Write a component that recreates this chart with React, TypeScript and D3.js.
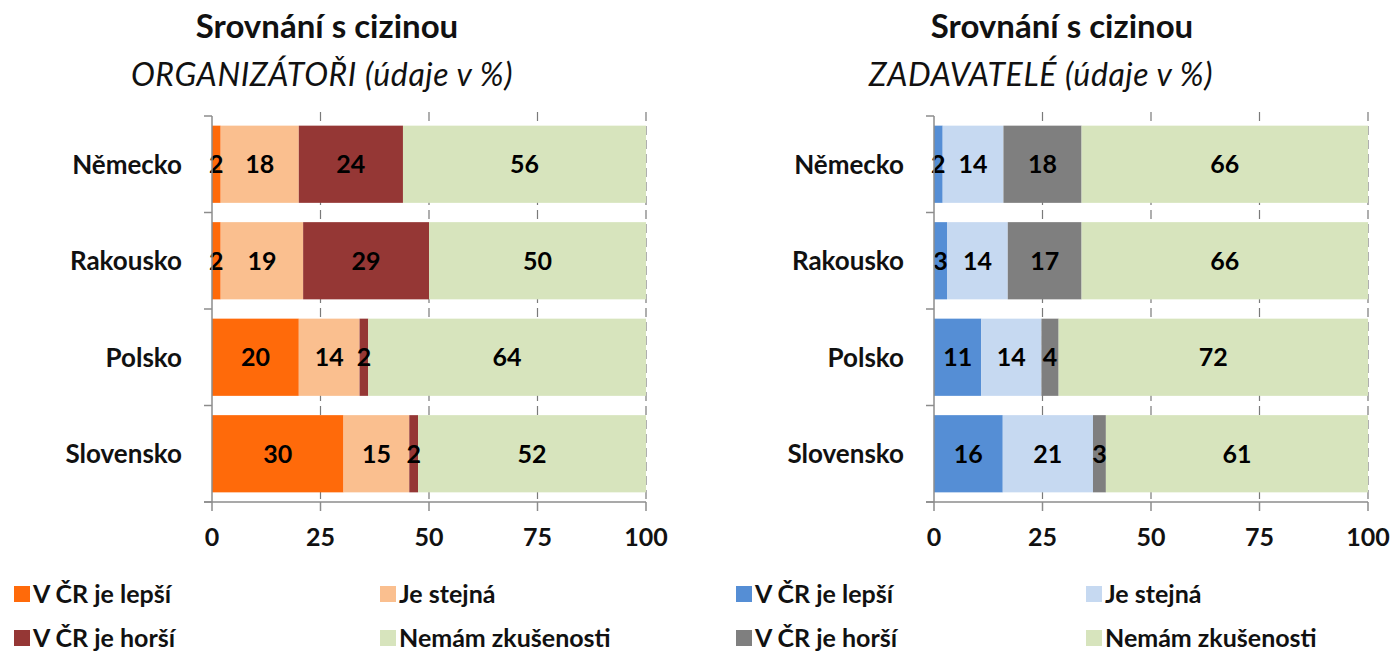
import React from "react";
import * as d3 from "d3";

const categories = ["Německo", "Rakousko", "Polsko", "Slovensko"];
const seriesNames = ["V ČR je lepší", "Je stejná", "V ČR je horší", "Nemám zkušenosti"];
const xTicks = [0, 25, 50, 75, 100];

// ORGANIZÁTOŘI
const orgBetter = [2, 2, 20, 30];
const orgSame = [18, 19, 14, 15];
const orgWorse = [24, 29, 2, 2];
const orgNone = [56, 50, 64, 52];

// ZADAVATELÉ
const zadBetter = [2, 3, 11, 16];
const zadSame = [14, 14, 14, 21];
const zadWorse = [18, 17, 4, 3];
const zadNone = [66, 66, 72, 61];

const orgColors = ["#FF6A0A", "#FABF8F", "#953735", "#D7E4BD"];
const zadColors = ["#558ED5", "#C6D9F1", "#7F7F7F", "#D7E4BD"];

const FONT = "Lato, 'Open Sans', 'DejaVu Sans', sans-serif";

type ChartProps = {
  dx: number;
  titleX: number;
  subtitleX: number;
  subtitle: string;
  series: number[][];
  colors: string[];
  legendCol2: number;
};

function Chart({ dx, titleX, subtitleX, subtitle, series, colors, legendCol2 }: ChartProps) {
  const x0 = 212 + dx;
  const x1 = 646 + dx;
  const yTop = 116;
  const yBot = 502;
  const x = d3.scaleLinear().domain([0, 100]).range([x0, x1]);
  const y = d3.scaleBand<string>().domain(categories).range([yTop, yBot]).paddingInner(0.2).paddingOuter(0.1);
  const step = y.step();
  const boundaries = d3.range(categories.length + 1).map((i) => yTop + i * step);

  const rows = categories.map((c, i) => {
    const vals = series.map((s) => s[i]);
    const total = d3.sum(vals);
    let acc = 0;
    return vals.map((v, k) => {
      const start = (acc / total) * 100;
      acc += v;
      const end = (acc / total) * 100;
      return { c, k, v, start, end };
    });
  });

  const axisColor = "#8C8C8C";

  return (
    <g>
      <text x={titleX} y={38} textAnchor="middle" fontFamily={FONT} fontWeight={700} fontSize={33} fill="#111">
        Srovnání s cizinou
      </text>
      <text x={subtitleX} y={86} textAnchor="middle" fontFamily={FONT} fontStyle="italic" fontSize={32} letterSpacing={0.6} fill="#111">
        {subtitle}
      </text>

      {/* gridlines */}
      {xTicks.filter((t) => t > 0).map((t) => (
        <line key={"g" + t} x1={x(t)} x2={x(t)} y1={yTop - 4} y2={yBot} stroke="#7A7A7A" strokeWidth={1.2} strokeDasharray="9,5" />
      ))}

      {/* bars */}
      {rows.map((r) =>
        r.map((seg) => (
          <rect
            key={seg.c + seg.k}
            x={x(seg.start)}
            y={y(seg.c)}
            width={x(seg.end) - x(seg.start)}
            height={y.bandwidth()}
            fill={colors[seg.k]}
          />
        ))
      )}

      {/* data labels */}
      {rows.map((r) =>
        r.map((seg) => (
          <text
            key={"l" + seg.c + seg.k}
            x={(x(seg.start) + x(seg.end)) / 2}
            y={(y(seg.c) as number) + y.bandwidth() / 2}
            dy="0.36em"
            textAnchor="middle"
            fontFamily={FONT}
            fontWeight={700}
            fontSize={25}
            fill="#000"
          >
            {seg.v}
          </text>
        ))
      )}

      {/* y axis */}
      <line x1={x0} x2={x0} y1={yTop} y2={yBot} stroke={axisColor} strokeWidth={1.5} />
      {boundaries.map((b, i) => (
        <line key={"yt" + i} x1={x0 - 8} x2={x0} y1={b} y2={b} stroke={axisColor} strokeWidth={1.5} />
      ))}
      {/* x axis */}
      <line x1={x0 - 8} x2={x1} y1={yBot} y2={yBot} stroke={axisColor} strokeWidth={1.5} />
      {xTicks.map((t) => (
        <line key={"xt" + t} x1={x(t)} x2={x(t)} y1={yBot} y2={yBot + 9} stroke={axisColor} strokeWidth={1.5} />
      ))}
      {xTicks.map((t) => (
        <text key={"xl" + t} x={x(t)} y={546} textAnchor="middle" fontFamily={FONT} fontWeight={700} fontSize={25} fill="#111">
          {t}
        </text>
      ))}

      {/* category labels */}
      {categories.map((c) => (
        <text
          key={"c" + c}
          x={182 + dx}
          y={(y(c) as number) + y.bandwidth() / 2}
          dy="0.36em"
          textAnchor="end"
          fontFamily={FONT}
          fontWeight={700}
          fontSize={26}
          fill="#111"
        >
          {c}
        </text>
      ))}

      {/* legend */}
      {seriesNames.map((n, k) => {
        const lx = k % 2 === 0 ? 14 + dx : legendCol2;
        const ly = k < 2 ? 594 : 638;
        return (
          <g key={"lg" + k}>
            <rect x={lx} y={ly - 8} width={16} height={16} fill={colors[k]} />
            <text x={lx + 19} y={ly} dy="0.36em" fontFamily={FONT} fontWeight={700} fontSize={25} fill="#111">
              {n}
            </text>
          </g>
        );
      })}
    </g>
  );
}

export default function App() {
  return (
    <svg width={1392} height={654} style={{ position: "absolute", left: 0, top: 0, background: "#fff" }}>
      <rect x={0} y={0} width={1392} height={654} fill="#fff" />
      <Chart
        dx={0}
        titleX={327}
        subtitleX={322}
        subtitle="ORGANIZÁTOŘI (údaje v %)"
        series={[orgBetter, orgSame, orgWorse, orgNone]}
        colors={orgColors}
        legendCol2={380}
      />
      <Chart
        dx={722}
        titleX={1062}
        subtitleX={1041}
        subtitle="ZADAVATELÉ (údaje v %)"
        series={[zadBetter, zadSame, zadWorse, zadNone]}
        colors={zadColors}
        legendCol2={1086}
      />
    </svg>
  );
}
